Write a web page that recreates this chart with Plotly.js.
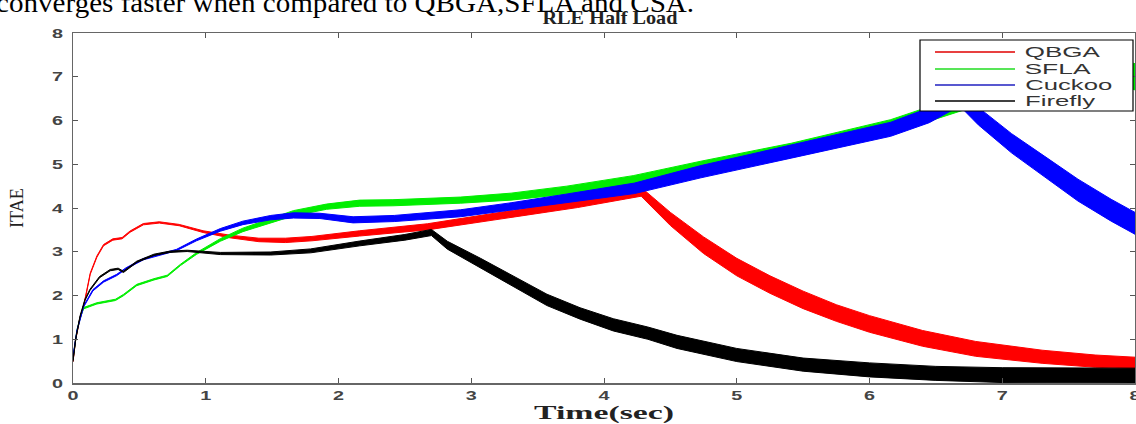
<!DOCTYPE html>
<html>
<head>
<meta charset="utf-8">
<script src="https://cdn.plot.ly/plotly-3.0.1.min.js"></script>
<style>html,body{margin:0;padding:0;background:#fff;}#chart{width:1136px;height:424px;}</style>
</head>
<body>
<div id="chart"></div>
<script>
// ---- data (time in sec, ITAE); H = half-thickness of the oscillation band ----
const seriesNames = ["QBGA", "SFLA", "Cuckoo", "Firefly"];

const qbgaX = [0, 0.02, 0.05, 0.08, 0.13, 0.18, 0.23, 0.30, 0.37, 0.43, 0.53, 0.65, 0.80, 0.98, 1.18, 1.40, 1.60, 1.80, 2.16, 2.67, 3.30, 3.80, 4.28, 4.50, 4.75, 5.00, 5.25, 5.50, 5.75, 6.00, 6.40, 6.80, 7.30, 7.70, 8.00];
const qbgaY = [0.50, 1.00, 1.45, 1.75, 2.50, 2.89, 3.15, 3.28, 3.31, 3.46, 3.63, 3.67, 3.61, 3.46, 3.35, 3.27, 3.26, 3.30, 3.42, 3.57, 3.86, 4.10, 4.37, 3.75, 3.15, 2.65, 2.25, 1.90, 1.60, 1.35, 1.02, 0.78, 0.60, 0.50, 0.46];
const qbgaH = [0.015, 0.015, 0.015, 0.015, 0.015, 0.015, 0.015, 0.015, 0.015, 0.015, 0.015, 0.015, 0.015, 0.02, 0.03, 0.04, 0.05, 0.05, 0.06, 0.07, 0.08, 0.09, 0.10, 0.15, 0.19, 0.20, 0.20, 0.20, 0.19, 0.19, 0.18, 0.17, 0.15, 0.14, 0.13];

const sflaX = [0, 0.03, 0.06, 0.08, 0.18, 0.32, 0.38, 0.48, 0.61, 0.71, 0.81, 0.93, 1.11, 1.28, 1.49, 1.66, 1.91, 2.16, 2.41, 2.92, 3.30, 3.72, 4.22, 4.73, 5.41, 6.16, 6.70, 7.20, 7.60, 8.00];
const sflaY = [0.57, 1.20, 1.55, 1.71, 1.82, 1.90, 2.01, 2.24, 2.37, 2.45, 2.70, 2.96, 3.27, 3.50, 3.71, 3.88, 4.03, 4.11, 4.12, 4.18, 4.26, 4.41, 4.64, 4.95, 5.34, 5.86, 6.40, 6.95, 7.30, 7.00];
const sflaH = [0.015, 0.015, 0.015, 0.015, 0.015, 0.015, 0.015, 0.015, 0.015, 0.015, 0.015, 0.02, 0.03, 0.04, 0.05, 0.06, 0.06, 0.07, 0.07, 0.07, 0.08, 0.09, 0.10, 0.12, 0.14, 0.16, 0.17, 0.20, 0.25, 0.30];

const cuckooX = [0, 0.03, 0.08, 0.15, 0.23, 0.33, 0.40, 0.53, 0.66, 0.78, 0.93, 1.11, 1.28, 1.49, 1.66, 1.86, 2.11, 2.42, 2.92, 3.30, 3.72, 4.23, 4.73, 5.41, 6.16, 6.45, 6.68, 6.82, 7.07, 7.32, 7.57, 7.82, 8.00];
const cuckooY = [0.60, 1.20, 1.75, 2.12, 2.32, 2.47, 2.62, 2.83, 2.94, 3.04, 3.27, 3.50, 3.66, 3.78, 3.83, 3.82, 3.73, 3.76, 3.88, 4.03, 4.22, 4.45, 4.83, 5.29, 5.80, 6.12, 6.50, 6.10, 5.48, 4.94, 4.41, 3.95, 3.65];
const cuckooH = [0.015, 0.015, 0.015, 0.015, 0.015, 0.015, 0.015, 0.015, 0.015, 0.015, 0.02, 0.03, 0.04, 0.05, 0.06, 0.06, 0.07, 0.07, 0.08, 0.09, 0.10, 0.12, 0.14, 0.15, 0.16, 0.17, 0.17, 0.20, 0.22, 0.24, 0.25, 0.25, 0.25];

const fireflyX = [0, 0.02, 0.053, 0.09, 0.128, 0.20, 0.28, 0.34, 0.38, 0.48, 0.61, 0.73, 0.86, 1.11, 1.49, 1.79, 2.16, 2.50, 2.70, 2.82, 3.07, 3.32, 3.57, 3.82, 4.07, 4.33, 4.55, 5.00, 5.50, 6.00, 6.50, 7.00, 7.50, 8.00];
const fireflyY = [0.50, 1.00, 1.52, 1.90, 2.13, 2.42, 2.58, 2.61, 2.54, 2.77, 2.93, 3.00, 3.02, 2.96, 2.96, 3.02, 3.19, 3.33, 3.44, 3.15, 2.74, 2.32, 1.90, 1.59, 1.33, 1.14, 0.94, 0.64, 0.42, 0.30, 0.22, 0.18, 0.17, 0.17];
const fireflyH = [0.015, 0.015, 0.015, 0.015, 0.015, 0.015, 0.015, 0.015, 0.015, 0.015, 0.015, 0.015, 0.015, 0.025, 0.035, 0.045, 0.055, 0.065, 0.07, 0.09, 0.11, 0.12, 0.13, 0.13, 0.14, 0.14, 0.15, 0.15, 0.15, 0.16, 0.16, 0.17, 0.17, 0.17];

const xTicks = [0, 1, 2, 3, 4, 5, 6, 7, 8];
const yTicks = [0, 1, 2, 3, 4, 5, 6, 7, 8];

// ---- build ----
const colors = ["#ff0000", "#00ee00", "#0000ff", "#000000"];
const legendColors = ["#e00000", "#20dd20", "#2020c0", "#000000"];
const sets = [[qbgaX, qbgaY, qbgaH], [sflaX, sflaY, sflaH], [cuckooX, cuckooY, cuckooH], [fireflyX, fireflyY, fireflyH]];

function band(x, y, h) {
  const up = y.map((v, i) => v + h[i]);
  const lo = y.map((v, i) => v - h[i]);
  return { x: x.concat(x.slice().reverse()), y: up.concat(lo.slice().reverse()) };
}

const traces = sets.map((s, i) => {
  const b = band(s[0], s[1], s[2]);
  return {
    type: "scatter", mode: "lines", x: b.x, y: b.y, name: seriesNames[i],
    fill: "toself", fillcolor: colors[i],
    line: { color: colors[i], width: 1 }, showlegend: false, hoverinfo: "skip"
  };
});

// pixel helpers for the in-plot legend box (plot area: 73..1135 x 33..383)
const L = 73, R = 1135, T = 33, B = 383;
const px = v => (v - L) / (R - L);
const py = v => (B - v) / (B - T);

// measured text widths in the (horizontally stretched) reference
const legendWidths = { "QBGA": 75, "SFLA": 66, "Cuckoo": 87, "Firefly": 70 };
const captionText = "converges faster when compared to QBGA,SFLA and CSA.";
const captionWidth = 698;

const shapes = [{
  type: "rect", xref: "paper", yref: "paper",
  x0: px(920), x1: px(1133), y0: py(111), y1: py(40),
  fillcolor: "#ffffff", line: { color: "#000000", width: 1.2 }, layer: "above"
}];
const annotations = [];
const rowsY = [52, 69, 85, 101];
seriesNames.forEach((n, i) => {
  shapes.push({
    type: "line", xref: "paper", yref: "paper",
    x0: px(935), x1: px(1015), y0: py(rowsY[i]), y1: py(rowsY[i]),
    line: { color: legendColors[i], width: 1.5 }, layer: "above"
  });
  annotations.push({
    xref: "paper", yref: "paper", x: px(1025 + legendWidths[n] / 2), y: py(rowsY[i]),
    xanchor: "center", yanchor: "middle", showarrow: false, text: n,
    font: { family: "Liberation Sans, Arial, sans-serif", size: 14, color: "#333333" }
  });
});
// clipped caption line from the page above the figure
annotations.push({
  xref: "paper", yref: "paper", x: px(-4 + captionWidth / 2), y: py(2),
  xanchor: "center", yanchor: "middle", showarrow: false,
  text: captionText,
  font: { family: "Liberation Serif, Times New Roman, serif", size: 28, color: "#000000" }
});

const axisCommon = {
  range: [0, 8], autorange: false, showgrid: false, zeroline: false,
  showline: true, linecolor: "#666666", linewidth: 1.5, mirror: "ticks",
  ticks: "inside", ticklen: 5, tickcolor: "#555555", tickwidth: 1,
  ticklabeloverflow: "allow",
  tickfont: { family: "Liberation Sans, Arial, sans-serif", size: 13, color: "#444444", weight: "bold" }
};

const layout = {
  width: 1136, height: 424,
  margin: { l: L, r: 1136 - R, t: T, b: 424 - B },
  paper_bgcolor: "#ffffff", plot_bgcolor: "#ffffff",
  showlegend: false,
  title: {
    text: "RLE Half Load", x: 610 / 1136, xanchor: "center",
    y: 1 - 17 / 424, yanchor: "middle", yref: "container", xref: "container",
    font: { family: "Liberation Serif, Times New Roman, serif", size: 19, color: "#222222", weight: "bold" }
  },
  xaxis: Object.assign({}, axisCommon, {
    tickvals: xTicks, ticktext: xTicks.map(String),
    title: { text: "Time(sec)", standoff: 0, font: { family: "Liberation Serif, Times New Roman, serif", size: 19, color: "#222222", weight: "bold" } }
  }),
  yaxis: Object.assign({}, axisCommon, {
    tickvals: yTicks, ticktext: yTicks.map(String), ticklabelstandoff: 6,
    title: { text: "ITAE", standoff: 27, font: { family: "Liberation Serif, Times New Roman, serif", size: 18, color: "#222222" } }
  }),
  shapes: shapes,
  annotations: annotations
};

// the reference figure is horizontally stretched: widen its texts to the measured widths
function stretchTo(el, w) {
  if (!el) return;
  el.setAttribute("textLength", w);
  el.setAttribute("lengthAdjust", "spacingAndGlyphs");
}

Plotly.newPlot("chart", traces, layout, { displayModeBar: false, staticPlot: true }).then(gd => {
  gd.querySelectorAll(".xtick text, .ytick text").forEach(t => stretchTo(t, 11));
  stretchTo(gd.querySelector(".gtitle"), 135);
  stretchTo(gd.querySelector(".xtitle"), 140);
  stretchTo(gd.querySelector(".ytitle"), 40);
  gd.querySelectorAll(".annotation-text").forEach(t => {
    const s = t.textContent;
    stretchTo(t, legendWidths[s] ? legendWidths[s] : captionWidth);
  });
});
</script>
</body>
</html>
